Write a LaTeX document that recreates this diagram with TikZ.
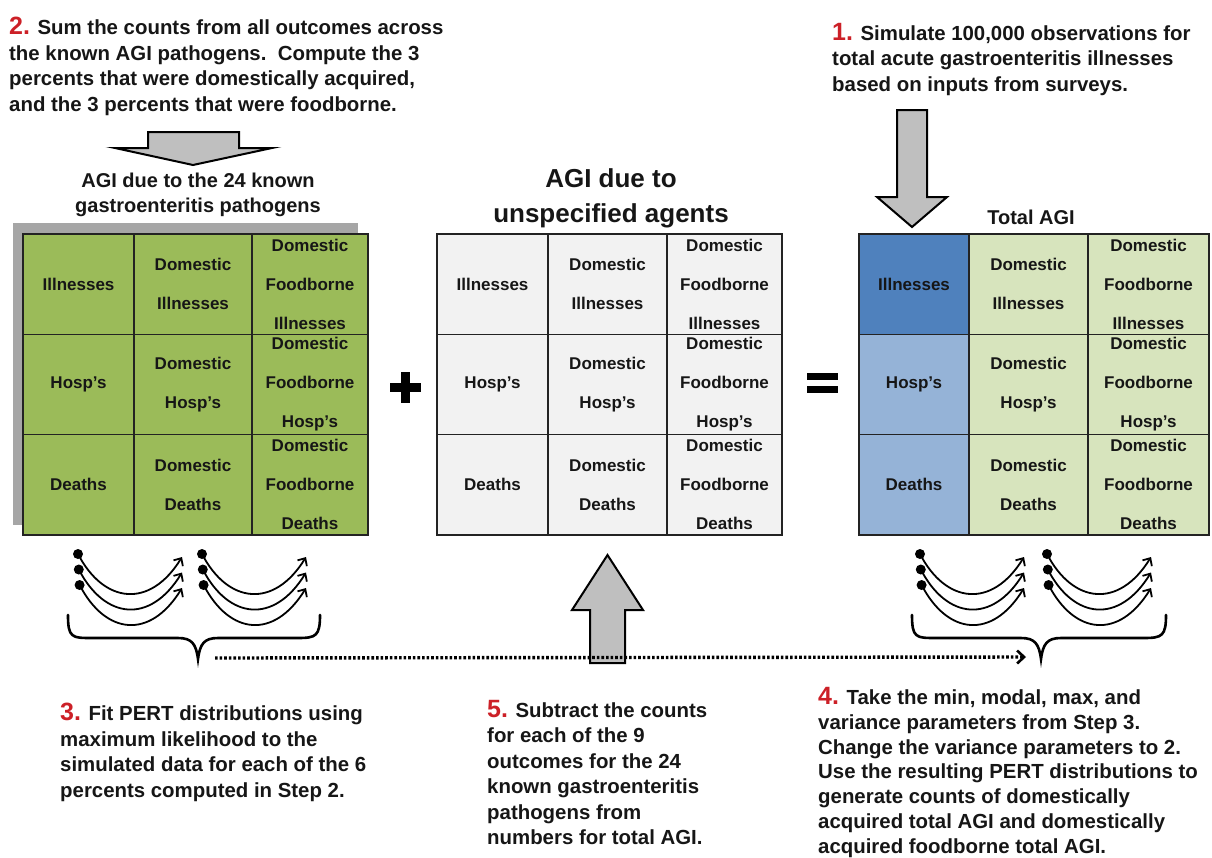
\documentclass[tikz,border=0pt]{standalone}
\usepackage{fontspec}
\setmainfont{Liberation Sans}
\usetikzlibrary{arrows.meta}
\definecolor{agigreen}{HTML}{9BBB59}
\definecolor{agigray}{HTML}{F2F2F2}
\definecolor{agiblue}{HTML}{4F81BD}
\definecolor{agilblue}{HTML}{95B3D7}
\definecolor{agilgreen}{HTML}{D7E4BD}
\definecolor{stepred}{RGB}{204,32,39}
\definecolor{arrowgray}{HTML}{BFBFBF}
\definecolor{shadowgray}{HTML}{A6A6A6}
\definecolor{inkc}{HTML}{161616}
\newcommand\agirow[6]{%
 \node[cell,fill=#5,minimum width={(\xb-\xa)*1pt}] (#1-#2-1) at ({(\xa+\xb)/2},{#3+50.17}) {#4};
 \node[cell,fill=#6,minimum width={(\xc-\xb)*1pt}] (#1-#2-2) at ({(\xb+\xc)/2},{#3+50.17}) {Domestic\\#4};
 \node[cell,fill=#6,minimum width={(\xd-\xc)*1pt}] (#1-#2-3) at ({(\xc+\xd)/2},{#3+50.17}) {Domestic\\Foodborne\\#4};
}
\newcommand\stepnum[1]{{\color{stepred}\fontsize{25}{25.5}\selectfont #1}}
\begin{document}
\begin{tikzpicture}[x=1pt,y=-1pt,
  cell/.style={draw={rgb,255:red,35;green,35;blue,35},line width=1.3pt,minimum height=100.33pt,
    inner sep=0pt,align=center,text=inkc,font=\fontsize{17}{39}\selectfont\bfseries},
  para/.style={anchor=north west,inner sep=0pt,align=left,text=inkc,
    font=\fontsize{20.4}{25.5}\selectfont\bfseries},
  ttl/.style={inner sep=0pt,align=center,text=inkc},
  blockarrow/.style={fill=arrowgray,draw=black,line width=2pt,line join=miter},
  pertdot/.style={circle,fill=black,inner sep=0pt,minimum size=10pt},
  pertcurve/.style={line width=1.8pt,-{Straight Barb[length=6pt,width=11pt]}},
  bracepath/.style={line width=2.6pt,line cap=round},
  dotflow/.style={line width=3.4pt,dash pattern=on 2.6pt off 2pt,-{Straight Barb[length=7pt,width=13pt,line width=2.6pt]}}
]
\useasboundingbox (0,0) rectangle (1212,857);

% ---------- paragraphs ----------
\node[para] (s2) at (9,17) {\stepnum{2.} Sum the counts from all outcomes across\\the known AGI pathogens.\ \ Compute the 3\\percents that were domestically acquired,\\and the 3 percents that were foodborne.};
\node[para] (s1) at (832,23) {\stepnum{1.} Simulate 100,000 observations for\\total acute gastroenteritis illnesses\\based on inputs from surveys.};
\node[para] (s3) at (60,703) {\stepnum{3.} Fit PERT distributions using\\maximum likelihood to the\\simulated data for each of the 6\\percents computed in Step 2.};
\node[para] (s5) at (487,700) {\stepnum{5.} Subtract the counts\\for each of the 9\\outcomes for the 24\\known gastroenteritis\\pathogens from\\numbers for total AGI.};
\node[para,font=\fontsize{20.4}{24.8}\selectfont\bfseries] (s4) at (818,687) {\stepnum{4.} Take the min, modal, max, and\\variance parameters from Step 3.\\Change the variance parameters to 2.\\Use the resulting PERT distributions to\\generate counts of domestically\\acquired total AGI and domestically\\acquired foodborne total AGI.};

% ---------- titles ----------
\node[ttl,font=\fontsize{20}{25}\selectfont\bfseries] (t1) at (198,195) {AGI due to the 24 known\\gastroenteritis pathogens};
\node[ttl,font=\fontsize{26}{35}\selectfont\bfseries] (t2) at (611,198) {AGI due to\\unspecified agents};
\node[ttl,font=\fontsize{20}{25}\selectfont\bfseries] (t3) at (1031,217) {Total AGI};

% ---------- block arrows ----------
\draw[blockarrow] (148,132) -- (239,132) -- (239,148) -- (272,148) -- (193,165) -- (115,148) -- (148,148) -- cycle;
\draw[blockarrow] (897,110) -- (927,110) -- (927,197) -- (947,197) -- (912,227) -- (877,197) -- (897,197) -- cycle;
\draw[blockarrow] (590,663) -- (625,663) -- (625,610) -- (643,610) -- (607.5,555) -- (572,610) -- (590,610) -- cycle;

% ---------- table 1 ----------
\fill[shadowgray] (13,223) rectangle (358,525);
\def\xa{23}\def\xb{134}\def\xc{252}\def\xd{368}
\agirow{ka}{1}{234}{Illnesses}{agigreen}{agigreen}
\agirow{ka}{2}{334.33}{Hosp’s}{agigreen}{agigreen}
\agirow{ka}{3}{434.67}{Deaths}{agigreen}{agigreen}

% ---------- table 2 ----------
\def\xa{437}\def\xb{548}\def\xc{667}\def\xd{782}
\agirow{ua}{1}{234}{Illnesses}{agigray}{agigray}
\agirow{ua}{2}{334.33}{Hosp’s}{agigray}{agigray}
\agirow{ua}{3}{434.67}{Deaths}{agigray}{agigray}

% ---------- table 3 ----------
\def\xa{859}\def\xb{969}\def\xc{1088}\def\xd{1209}
\agirow{ta}{1}{234}{Illnesses}{agiblue}{agilgreen}
\agirow{ta}{2}{334.33}{Hosp’s}{agilblue}{agilgreen}
\agirow{ta}{3}{434.67}{Deaths}{agilblue}{agilgreen}

% ---------- plus and equals ----------
\fill[black] (389.5,382.5) rectangle (420.5,391.5);
\fill[black] (400.5,371.5) rectangle (409.5,402.5);
\fill[black] (807,373) rectangle (838,380);
\fill[black] (807,386) rectangle (838,393);

% ---------- PERT curves ----------
\foreach \g/\gx in {a/78,b/202,c/920,d/1047}{
  \foreach \k/\dy in {1/0,2/15.5,3/31}{
    \node[pertdot] (p\g\k) at ({\gx+(\k-1)*0.8},{554+\dy}) {};
    \coordinate (e\g\k) at ({\gx+104},{557+\dy});
    \draw[pertcurve] (p\g\k.center) .. controls +(26,50) and +(-32,52) .. (e\g\k);
  }
}

% ---------- braces ----------
\draw[bracepath] (68,615) .. controls (68,638) and (72,638) .. (92,638) -- (178,638)
  .. controls (192,638) and (196,644) .. (198,659)
  .. controls (200,644) and (204,638) .. (218,638) -- (298,638)
  .. controls (316,638) and (320,636) .. (320,615);
\draw[bracepath] (912,615) .. controls (912,638) and (916,638) .. (936,638) -- (1021,638)
  .. controls (1035,638) and (1039,644) .. (1041,659)
  .. controls (1043,644) and (1047,638) .. (1061,638) -- (1144,638)
  .. controls (1162,638) and (1166,636) .. (1166,615);
\coordinate (dotS) at (215,658);
\coordinate (dotE) at (1026,657);
\draw[dotflow] (dotS) -- (dotE);
\end{tikzpicture}
\end{document}
